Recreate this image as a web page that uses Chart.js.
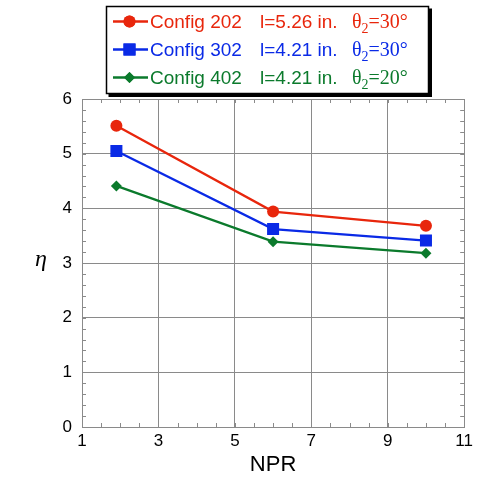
<!DOCTYPE html>
<html>
<head>
<meta charset="utf-8">
<style>
  html, body { margin: 0; padding: 0; background: #ffffff; }
  #wrap { position: relative; width: 477px; height: 478px; }
</style>
<script src="https://cdn.jsdelivr.net/npm/chart.js@4/dist/chart.umd.min.js"></script>
</head>
<body>
<div id="wrap"><canvas id="c" width="477" height="478"></canvas></div>
<script>
// ---- data ----
const npr = [1.9, 6.0, 10.0];
const config202 = [5.51, 3.94, 3.68];
const config302 = [5.05, 3.62, 3.41];
const config402 = [4.41, 3.39, 3.18];
const seriesNames = ['Config 202', 'Config 302', 'Config 402'];
const lengthLabels = ['l=5.26 in.', 'l=4.21 in.', 'l=4.21 in.'];
const thetaValues = ['=30°', '=30°', '=20°'];
const xTitle = 'NPR';
const yTitle = 'η';

const colors = ['#e8260c', '#0a2ae6', '#0b7a2c'];
const styles = ['circle', 'rect', 'rectRot'];
const radii = [6, 8.5, 5.5];

function pts(ys) { return npr.map((x, i) => ({ x: x, y: ys[i] })); }
const allSeries = [config202, config302, config402];

const datasets = allSeries.map((ys, i) => ({
  label: seriesNames[i],
  data: pts(ys),
  borderColor: colors[i],
  backgroundColor: colors[i],
  borderWidth: 2.3,
  pointStyle: styles[i],
  pointRadius: radii[i],
  pointHoverRadius: radii[i],
  pointBorderWidth: 0,
  showLine: true,
  tension: 0
}));

const GRID = '#8a8a8a';

const extras = {
  id: 'extras',
  beforeDatasetsDraw(chart) {
    const ctx = chart.ctx;
    const xs = chart.scales.x, ys = chart.scales.y;
    const a = chart.chartArea;
    ctx.save();
    ctx.strokeStyle = GRID;
    ctx.lineWidth = 1;
    const tl = 4;
    for (let v = 1; v <= 11.001; v += 0.5) {
      const px = Math.round(xs.getPixelForValue(v)) + 0.5;
      ctx.beginPath();
      ctx.moveTo(px, a.bottom); ctx.lineTo(px, a.bottom - tl);
      ctx.moveTo(px, a.top); ctx.lineTo(px, a.top + tl);
      ctx.stroke();
    }
    for (let v = 0; v <= 6.001; v += 0.2) {
      const py = Math.round(ys.getPixelForValue(v)) + 0.5;
      ctx.beginPath();
      ctx.moveTo(a.left, py); ctx.lineTo(a.left + tl, py);
      ctx.moveTo(a.right, py); ctx.lineTo(a.right - tl, py);
      ctx.stroke();
    }
    ctx.restore();
  },
  afterDraw(chart) {
    const ctx = chart.ctx;
    ctx.save();
    ctx.fillStyle = '#000';
    ctx.font = 'italic 24px "Liberation Serif", "DejaVu Serif", serif';
    ctx.textAlign = 'center';
    ctx.textBaseline = 'alphabetic';
    ctx.fillText(yTitle, 41, 266);

    const bx = 106.5, by = 6.5, bw = 322, bh = 87;
    ctx.fillStyle = '#000';
    ctx.fillRect(bx + 2, by + 2, bw + 1.5, bh + 1.5);
    ctx.fillStyle = '#fff';
    ctx.fillRect(bx, by, bw, bh);
    ctx.strokeStyle = '#000';
    ctx.lineWidth = 1.5;
    ctx.strokeRect(bx, by, bw, bh);

    const baselines = [28, 56, 84];
    for (let i = 0; i < 3; i++) {
      const cy = baselines[i] - 6.5;
      ctx.strokeStyle = colors[i];
      ctx.lineWidth = 2.3;
      ctx.beginPath();
      ctx.moveTo(113, cy); ctx.lineTo(148, cy);
      ctx.stroke();
      ctx.fillStyle = colors[i];
      Chart.helpers.drawPoint(ctx, { pointStyle: styles[i], radius: radii[i], rotation: 0, borderWidth: 0 }, 129.5, cy);
      ctx.fill();
      ctx.textAlign = 'left';
      ctx.textBaseline = 'alphabetic';
      ctx.font = '19px "Liberation Sans", Arial, sans-serif';
      ctx.fillText(seriesNames[i], 150, baselines[i]);
      ctx.fillText(lengthLabels[i], 260, baselines[i]);
      ctx.font = '20px "Liberation Serif", "Times New Roman", serif';
      const tx = 352;
      ctx.fillText('θ', tx, baselines[i]);
      const tw = ctx.measureText('θ').width;
      ctx.font = '14px "Liberation Serif", "Times New Roman", serif';
      ctx.fillText('2', tx + tw, baselines[i] + 5);
      const sw = ctx.measureText('2').width;
      ctx.font = '20px "Liberation Serif", "Times New Roman", serif';
      ctx.fillText(thetaValues[i], tx + tw + sw, baselines[i]);
    }
    ctx.restore();
  }
};

new Chart(document.getElementById('c'), {
  type: 'scatter',
  data: { datasets: datasets },
  options: {
    responsive: false,
    animation: false,
    devicePixelRatio: 1,
    layout: { padding: { top: 99, right: 11, left: 0, bottom: 0 } },
    plugins: { legend: { display: false }, tooltip: { enabled: false } },
    scales: {
      x: {
        type: 'linear',
        min: 1, max: 11,
        afterFit(s) { s.height = 51; },
        ticks: { stepSize: 2, color: '#000', padding: 4,
          font: { family: '"Liberation Sans", Arial, sans-serif', size: 17 } },
        grid: { color: GRID, lineWidth: 1, drawTicks: false },
        border: { color: GRID, width: 1 },
        title: { display: true, text: xTitle, color: '#000', padding: 0,
          font: { family: '"Liberation Sans", Arial, sans-serif', size: 22 } }
      },
      y: {
        type: 'linear',
        min: 0, max: 6,
        afterFit(s) { s.width = 82; },
        ticks: { stepSize: 1, color: '#000', padding: 10,
          font: { family: '"Liberation Sans", Arial, sans-serif', size: 17 } },
        grid: { color: GRID, lineWidth: 1, drawTicks: false },
        border: { color: GRID, width: 1 }
      }
    }
  },
  plugins: [extras]
});
</script>
</body>
</html>
